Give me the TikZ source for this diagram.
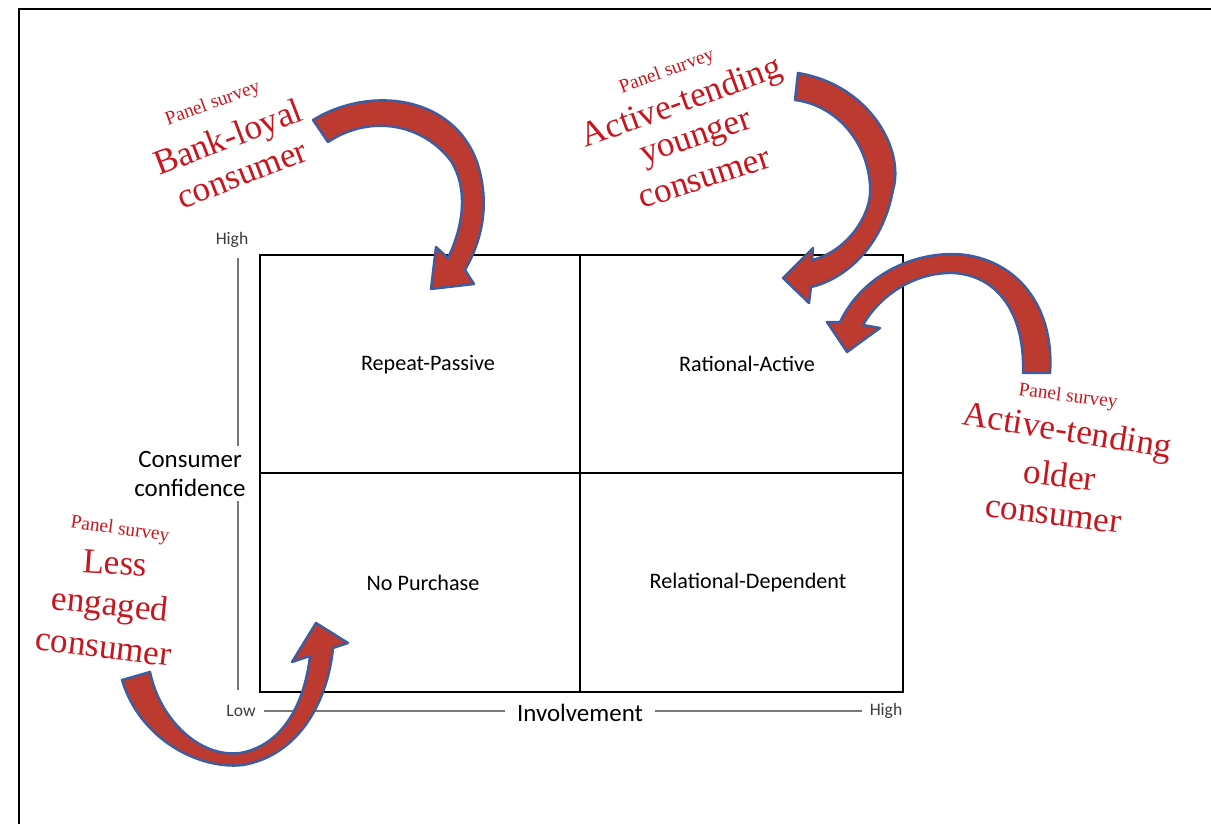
\documentclass[tikz,border=0pt]{standalone}
\usepackage{fontspec}
\setmainfont{Liberation Serif}
\newfontfamily\calib{Carlito}
\definecolor{arrred}{RGB}{188,58,48}
\definecolor{arrblue}{RGB}{62,92,158}
\definecolor{txtred}{RGB}{200,22,30}
\definecolor{axgray}{RGB}{120,120,120}
\definecolor{labgray}{RGB}{60,60,60}
\begin{document}
\begin{tikzpicture}[x=0.02cm,y=-0.02cm,
  frame/.style={line width=1.2pt,black},
  grid/.style={line width=1.6pt,black},
  cell/.style={font=\calib\fontsize{12.6}{15}\selectfont,text=black,inner sep=1pt},
  axlab/.style={font=\calib\fontsize{14.2}{17}\selectfont,text=black,inner sep=1pt,align=center},
  axend/.style={font=\calib\fontsize{10}{12}\selectfont,text=labgray,inner sep=1pt},
  axline/.style={line width=0.7pt,axgray},
  small/.style={font=\fontsize{11}{13}\selectfont,text=txtred,inner sep=0pt},
  big/.style={font=\fontsize{20}{24}\selectfont,text=txtred,inner sep=0pt},
  blockarrow/.style={fill=arrred,draw=arrblue,line width=1.4pt,line join=round}]
\useasboundingbox (0,0) rectangle (1211,823);
% outer frame
\draw[frame] (19,830) -- (19,9) -- (1220,9);
% grid
\draw[grid] (260,255) rectangle (903,692);
\draw[grid] (580,255) -- (580,692);
\draw[grid] (260,473) -- (903,473);
% cell labels
\node[cell] (rp) at (428,365) {Repeat-Passive};
\node[cell] (ra) at (747,364) {Rational-Active};
\node[cell] (np) at (423,583) {No Purchase};
\node[cell] (rd) at (748,583) {Relational-Dependent};
% axes
\node[axend] (yhigh) at (232,240) {High};
\node[axlab] (conf) at (190,474) {Consumer\\confidence};
\node[axend] (xlow) at (241,711) {Low};
\node[axlab] (inv) at (580,713) {Involvement};
\node[axend] (xhigh) at (886,711) {High};
\coordinate (vtop) at (238,258);
\coordinate (vmid1) at (238,446);
\coordinate (vmid2) at (238,501);
\coordinate (vbot) at (238,690);
\coordinate (h1) at (264,711);
\coordinate (h2) at (505,711);
\coordinate (h3) at (655,711);
\coordinate (h4) at (862,711);
\draw[axline] (vtop) -- (vmid1);
\draw[axline] (vmid2) -- (vbot);
\draw[axline] (h1) -- (h2);
\draw[axline] (h3) -- (h4);
% arrow 1: Bank-loyal -> Repeat-Passive
\draw[blockarrow] (328,142) -- (313,120)
  .. controls (370,85) and (455,95) .. (478,165)
  .. controls (490,205) and (482,240) .. (465,270)
  -- (474,284) -- (431,289) -- (436,247) -- (448,258)
  .. controls (464,225) and (468,188) .. (451,161)
  .. controls (424,125) and (372,113) .. cycle;
% arrow 2: younger -> Rational-Active
\draw[blockarrow] (795,100) -- (798,73)
  .. controls (870,85) and (905,150) .. (893,190)
  .. controls (882,250) and (842,280) .. (811,287)
  -- (809,303) -- (783,278) -- (813,248) -- (812,260)
  .. controls (846,252) and (873,215) .. (870,185)
  .. controls (867,140) and (835,105) .. cycle;
% arrow 3: older -> Rational-Active
\draw[blockarrow] (1023,373) -- (1050,373)
  .. controls (1055,300) and (1010,255) .. (953,254)
  .. controls (905,254) and (860,280) .. (840,322)
  -- (827,322) -- (847,352) -- (880,328) -- (863,325)
  .. controls (880,295) and (915,272) .. (953,273)
  .. controls (995,275) and (1025,310) .. cycle;
% arrow 4: Less engaged -> No Purchase
\draw[blockarrow] (150,672) -- (122,680)
  .. controls (140,740) and (200,770) .. (243,765)
  .. controls (300,755) and (328,700) .. (333,648)
  -- (348,643) -- (316,623) -- (292,662) -- (310,656)
  .. controls (305,700) and (285,745) .. (240,753)
  .. controls (200,758) and (160,720) .. cycle;
% texts block 1
\node[small,rotate=20] (ps1) at (213,104) {Panel survey};
\node[big,rotate=21] (bl1) at (229,140) {Bank-loyal};
\node[big,rotate=21] (bl2) at (243,177) {consumer};
% block 2
\node[small,rotate=20] (ps2) at (667,72) {Panel survey};
\node[big,rotate=20] (ay1) at (682,104) {Active-tending};
\node[big,rotate=19] (ay2) at (697,141) {younger};
\node[big,rotate=18] (ay3) at (705,180) {consumer};
% block 3
\node[small,rotate=-7.5] (ps3) at (1068,397) {Panel survey};
\node[big,rotate=-9] (ao1) at (1067,433) {Active-tending};
\node[big,rotate=-7] (ao2) at (1060,475) {older};
\node[big,rotate=-7] (ao3) at (1053,517) {consumer};
% block 4
\node[small,rotate=-8] (ps4) at (120,530) {Panel survey};
\node[big,rotate=-4] (le1) at (115,563) {Less};
\node[big,rotate=-6] (le2) at (110,607) {engaged};
\node[big,rotate=-7] (le3) at (103,650) {consumer};
\end{tikzpicture}
\end{document}
